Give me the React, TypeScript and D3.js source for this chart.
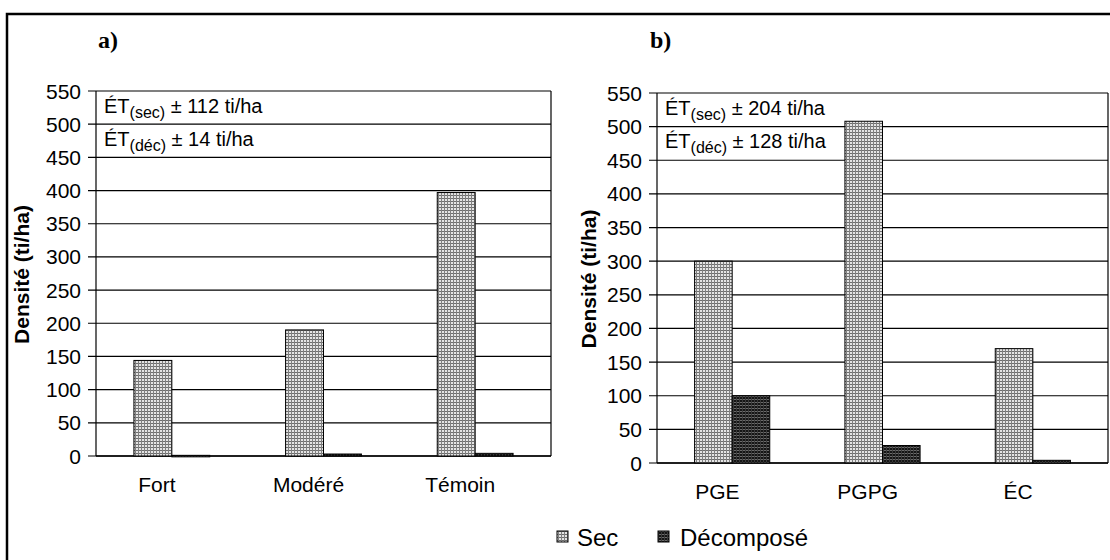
import React from "react";
import * as d3 from "d3";

const categoriesA = ["Fort", "Modéré", "Témoin"];
const secA = [144, 190, 397];
const decA = [1, 3, 4];
const categoriesB = ["PGE", "PGPG", "ÉC"];
const secB = [300, 508, 170];
const decB = [100, 26, 4];
const yTicks = [0, 50, 100, 150, 200, 250, 300, 350, 400, 450, 500, 550];
const notesA = ["112", "14"];
const notesB = ["204", "128"];
const seriesNames = ["Sec", "Décomposé"];
const yTitle = "Densité (ti/ha)";

const SANS = "'Liberation Sans', Arial, Helvetica, sans-serif";
const SERIF = "'Liberation Serif', 'Times New Roman', serif";

type PanelProps = {
  label: string;
  cats: string[];
  sec: number[];
  dec: number[];
  notes: string[];
  x0: number;
  x1: number;
  yTop: number;
  yBot: number;
  titleX: number;
  labelX: number;
};

function Panel({ label, cats, sec, dec, notes, x0, x1, yTop, yBot, titleX, labelX }: PanelProps) {
  const y = d3.scaleLinear().domain([0, 550]).range([yBot, yTop]);
  const x = d3.scaleBand<string>().domain(cats).range([x0, x1]).paddingInner(0).paddingOuter(0);
  const bw = x.bandwidth() * 0.25;
  const sub = d3.scaleBand<string>().domain(["sec", "dec"]).range([0, bw * 2]);
  const rows = cats.map((c, i) => ({ c, sec: sec[i], dec: dec[i] }));
  return (
    <g>
      <text x={labelX} y={48} fontFamily={SERIF} fontWeight="bold" fontSize={24}>{label}</text>
      {yTicks.map((t) => (
        <g key={t}>
          <line x1={x0 - 8} x2={x1} y1={y(t)} y2={y(t)} stroke="#000" strokeWidth={1.2} />
          <text x={x0 - 15} y={y(t)} dy="0.36em" textAnchor="end" fontFamily={SANS} fontSize={21}>{t}</text>
        </g>
      ))}
      <line x1={x0} x2={x0} y1={yTop} y2={yBot} stroke="#000" strokeWidth={1.2} />
      <line x1={x1} x2={x1} y1={yTop} y2={yBot} stroke="#000" strokeWidth={1.2} />
      <line x1={x0} x2={x1} y1={yBot} y2={yBot} stroke="#000" strokeWidth={1.6} />
      {rows.map((r) => {
        const gx = (x(r.c) as number) + x.bandwidth() / 2 - bw;
        const sx = gx + (sub("sec") as number);
        return (
          <g key={r.c}>
            <rect x={sx} y={y(r.sec)} width={sub.bandwidth()} height={yBot - y(r.sec)} fill="url(#secPat)" stroke="#000" strokeWidth={1} />
            <rect x={gx + (sub("dec") as number)} y={y(r.dec)} width={sub.bandwidth()} height={Math.max(yBot - y(r.dec), 1.5)} fill="url(#decPat)" stroke="#000" strokeWidth={1} />
            <text x={sx + sub.bandwidth() / 2 + 4} y={yBot + 36} textAnchor="middle" fontFamily={SANS} fontSize={21}>{r.c}</text>
          </g>
        );
      })}
      {notes.map((n, i) => (
        <text key={i} x={x0 + 8} y={y(525 - i * 50) + 5} fontFamily={SANS} fontSize={20}>
          ÉT<tspan fontSize={16} dy={5}>{i === 0 ? "(sec)" : "(déc)"}</tspan>
          <tspan dy={-5}>{" ± " + n + " ti/ha"}</tspan>
        </text>
      ))}
      <text transform={`translate(${titleX},${(yTop + yBot) / 2 + 1}) rotate(-90)`} textAnchor="middle" fontFamily={SANS} fontWeight="bold" fontSize={21}>{yTitle}</text>
    </g>
  );
}

export default function App() {
  return (
    <div style={{ position: "fixed", left: 0, top: 0 }}>
      <svg width={1110} height={560} style={{ display: "block", background: "#fff" }}>
        <defs>
          <pattern id="secPat" width={3} height={3} patternUnits="userSpaceOnUse">
            <rect width={3} height={3} fill="#e4e4e4" />
            <rect width={3} height={1} fill="#6e6e6e" />
            <rect width={1} height={3} fill="#808080" />
          </pattern>
          <pattern id="decPat" width={3} height={3} patternUnits="userSpaceOnUse">
            <rect width={3} height={3} fill="#151515" />
            <rect width={3} height={1} fill="#6a6a6a" />
            <rect x={1} width={1} height={3} fill="#3a3a3a" />
          </pattern>
        </defs>
        <rect x={7} y={14} width={1120} height={580} fill="none" stroke="#000" strokeWidth={2.5} />
        <Panel label="a)" cats={categoriesA} sec={secA} dec={decA} notes={notesA} x0={96} x1={551} yTop={91} yBot={456} titleX={29} labelX={98} />
        <Panel label="b)" cats={categoriesB} sec={secB} dec={decB} notes={notesB} x0={657} x1={1108} yTop={93} yBot={463} titleX={596} labelX={650} />
        <g fontFamily={SANS} fontSize={24}>
          <rect x={557} y={531} width={11} height={11} fill="url(#secPat)" stroke="#000" strokeWidth={1} />
          <text x={577} y={546}>{seriesNames[0]}</text>
          <rect x={658} y={531} width={11} height={11} fill="url(#decPat)" stroke="#000" strokeWidth={1} />
          <text x={680} y={546}>{seriesNames[1]}</text>
        </g>
      </svg>
    </div>
  );
}
